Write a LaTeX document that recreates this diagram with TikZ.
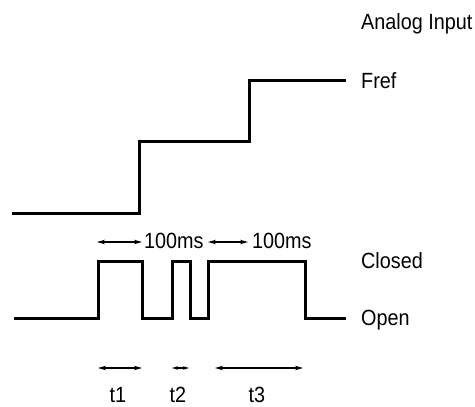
\documentclass[tikz,border=0pt]{standalone}
\usepackage{fontspec}
\setmainfont[FakeStretch=0.9]{Liberation Sans}
\usetikzlibrary{arrows.meta}
\begin{document}
\begin{tikzpicture}[x=1pt, y=-1pt, >={Stealth[length=8pt,width=4.5pt]},
  wave/.style={line width=3pt},
  span/.style={<->, line width=1.5pt},
  lbl/.style={inner sep=0pt, font=\fontsize{22}{26}\selectfont}]
  \useasboundingbox (0,0) rectangle (475,407);
  % analog input (stair up to Fref)
  \draw[wave] (12,213) -- (139,213) -- (139,141) -- (249,141) -- (249,80) -- (346,80);
  \node[lbl, anchor=base west] (ain) at (361,29) {Analog Input};
  \node[lbl, anchor=base west] (fref) at (361,88) {Fref};
  % switch state (open / closed)
  \draw[wave] (14,318) -- (98,318) -- (98,261) -- (142,261) -- (142,318)
    -- (172,318) -- (172,261) -- (190,261) -- (190,318)
    -- (208,318) -- (208,261) -- (305,261) -- (305,318) -- (346,318);
  \node[lbl, anchor=base west] (closed) at (361,268) {Closed};
  \node[lbl, anchor=base west] (open) at (361,325) {Open};
  % 100ms spans
  \coordinate (a1) at (97,242);
  \coordinate (a2) at (142,242);
  \coordinate (b1) at (208,242);
  \coordinate (b2) at (248,242);
  \draw[span, line width=1.1pt] (a1) -- (a2);
  \draw[span, line width=1.1pt] (b1) -- (b2);
  \node[lbl, anchor=base west] (ms1) at (144,248) {100ms};
  \node[lbl, anchor=base west] (ms2) at (252,248) {100ms};
  % t1, t2, t3
  \coordinate (t1a) at (98,368);
  \coordinate (t1b) at (142,368);
  \coordinate (t2a) at (172,368);
  \coordinate (t2b) at (189,368);
  \coordinate (t3a) at (215,368);
  \coordinate (t3b) at (303,368);
  \draw[span] (t1a) -- (t1b);
  \draw[<->, >={Stealth[length=6pt,width=3.5pt]}, line width=1.1pt] (t2a) -- (t2b);
  \draw[span] (t3a) -- (t3b);
  \node[lbl, anchor=base] (t1) at (118,402) {t1};
  \node[lbl, anchor=base] (t2) at (178,402) {t2};
  \node[lbl, anchor=base] (t3) at (257,402) {t3};
\end{tikzpicture}
\end{document}
